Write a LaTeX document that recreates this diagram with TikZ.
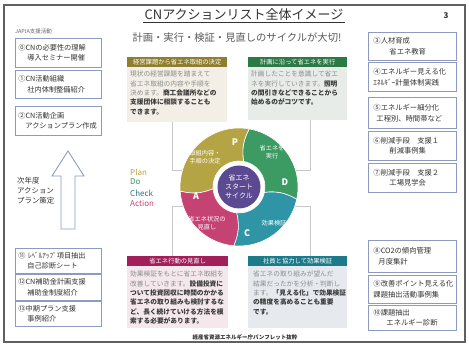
\documentclass[tikz,border=0pt]{standalone}
\usepackage{fontspec}
\setmainfont{Noto Sans CJK JP}
\usetikzlibrary{calc}
\definecolor{framec}{HTML}{606060}
\definecolor{boxblue}{HTML}{8D9BC2}
\definecolor{boxtext}{HTML}{333333}
\definecolor{segP}{HTML}{B5A443}
\definecolor{segD}{HTML}{3C9A63}
\definecolor{segC}{HTML}{2F95A6}
\definecolor{segA}{HTML}{C54372}
\definecolor{hubc}{HTML}{5B4A92}
\definecolor{hdP}{HTML}{8E7E2E}
\definecolor{hdD}{HTML}{2B7A45}
\definecolor{hdA}{HTML}{A11F5B}
\definecolor{hdC}{HTML}{1D7A8A}
\definecolor{bgP}{HTML}{F3EFE6}
\definecolor{bgD}{HTML}{E8ECE8}
\definecolor{bgA}{HTML}{F4E8EC}
\definecolor{bgC}{HTML}{E6EAEE}
\definecolor{txtgray}{HTML}{8C8C8C}
\definecolor{txtdark}{HTML}{3A3A3A}
\definecolor{linkc}{HTML}{C8C8C8}
\newcommand\pgray[1]{\textcolor{txtgray}{#1}}
\newcommand\pdark[1]{\textcolor{txtdark}{\bfseries #1}}
\newcommand\wheelseg[3]{\fill[#3, draw=white, line width=0.6pt] (#1:26) to[bend left=18] (#1:59) arc[start angle=#1, end angle=#2, radius=59] to[bend right=18] (#2:26) arc[start angle=#2, end angle=#1, radius=26] -- cycle;}
\begin{document}
\begin{tikzpicture}[x=1pt,y=-1pt,
  lbox/.style={draw=boxblue, line width=0.9pt, fill=white, anchor=north west, inner xsep=3pt, inner ysep=0pt, align=left, text width=80pt, font=\fontsize{7.2}{10.5}\selectfont, text=boxtext},
  rbox/.style={lbox, inner xsep=5pt, text width=78pt, font=\fontsize{7.3}{10.5}\selectfont},
  hdr/.style={anchor=north west, inner sep=0pt, minimum height=9.5pt, text=white, font=\fontsize{6.3}{7}\selectfont},
  body/.style={anchor=north west, inner sep=0pt},
  btext/.style={anchor=north west, inner sep=0pt, align=left, font=\fontsize{6.7}{9.3}\selectfont},
  seglabel/.style={text=white, align=center, font=\fontsize{6.2}{7.8}\selectfont},
  segletter/.style={text=white, font=\fontsize{9}{9}\selectfont\bfseries},
  link/.style={draw=linkc, line width=0.8pt},
  pdca/.style={anchor=west, inner sep=0pt, font=\fontsize{8}{8}\selectfont}
]
\useasboundingbox (0,0) rectangle (469,347);
\fill[white] (0,0) rectangle (469,347);
\draw[framec, line width=1.1pt] (4,5) rectangle (465,342);

% title
\node[inner sep=1.2pt, font=\fontsize{13}{14}\selectfont, text=boxtext] (title) at (244,15) {CNアクションリスト全体イメージ};
\draw[boxtext, line width=0.8pt] (title.south west) -- (title.south east);
\node[font=\fontsize{10.3}{11}\selectfont, text=black!65] (subtitle) at (237,38) {計画・実行・検証・見直しのサイクルが大切!};
\node[font=\fontsize{8}{8}\selectfont\bfseries, text=boxtext] (pageno) at (446,16) {3};
\node[anchor=west, inner sep=0pt, font=\fontsize{5.5}{6}\selectfont, text=black!60] (japia) at (15,31) {JAPIA支援活動};

% left boxes
\node[lbox, minimum height=29pt] (b0) at (15,38) {⓪CNの必要性の理解\\\hspace*{9pt}導入セミナー開催};
\node[lbox, minimum height=28pt] (b1) at (15,70) {①CN活動組織\\\hspace*{9pt}社内体制整備紹介};
\node[lbox, minimum height=29pt] (b2) at (15,106) {②CN活動企画\\\hspace*{7pt}アクションプラン作成};
\node[lbox, minimum height=25pt] (b11) at (15,248) {⑪ ﾚﾍﾞﾙｱｯﾌﾟ項目抽出\\\hspace*{9pt}自己診断シート};
\node[lbox, minimum height=26pt] (b12) at (15,274) {⑫CN補助金計画支援\\\hspace*{9pt}補助金制度紹介};
\node[lbox, minimum height=25pt] (b13) at (15,301) {⑬中期プラン支援\\\hspace*{9pt}事例紹介};

% up arrow
\draw[boxblue, line width=0.9pt, fill=white] (68,151) -- (84,176) -- (75,176) -- (75,229) -- (61,229) -- (61,176) -- (52,176) -- cycle;
\node[anchor=north west, inner sep=0pt, align=left, font=\fontsize{7.4}{10}\selectfont, text=boxtext] (nextyear) at (17,177) {次年度\\アクション\\プラン策定};

% right boxes
\node[rbox, minimum height=28pt] (b3) at (368,32) {③人材育成\\\hspace*{16pt}省エネ教育};
\node[rbox, minimum height=29pt] (b4) at (368,62) {④エネルギー見える化\\ｴﾈﾙｷﾞｰ計量体制実践};
\node[rbox, minimum height=31pt] (b5) at (368,97) {⑤エネルギー細分化\\\hspace*{3pt}工程別、時間帯など};
\node[rbox, minimum height=29pt] (b6) at (368,131) {⑥削減手段　支援１\\\hspace*{16pt}削減事例集};
\node[rbox, minimum height=29pt] (b7) at (368,163) {⑦削減手段　支援２\\\hspace*{16pt}工場見学会};
\node[rbox, minimum height=32pt] (b8) at (368,240) {⑧CO2の傾向管理\\\hspace*{5pt}月度集計};
\node[rbox, minimum height=28pt] (b9) at (368,275) {⑨改善ポイント見える化\\課題抽出活動事例集};
\node[rbox, minimum height=25pt] (b10) at (368,305) {⑩課題抽出\\\hspace*{13pt}エネルギー診断};

% panels
\node[body, fill=bgP, minimum width=100pt, minimum height=56pt] (pbody) at (127,66) {};
\node[hdr, fill=hdP, minimum width=100pt] (phead) at (127,57) {経営課題から省エネ取組の決定};
\node[btext] (ptext) at (130,71) {\pgray{現状の経営課題を踏まえて}\\\pgray{省エネ取組の内容や手順を}\\\pgray{決めます。}\pdark{商工会議所などの}\\\pdark{支援団体に相談することも}\\\pdark{できます。}};

\node[body, fill=bgD, minimum width=99pt, minimum height=54pt] (dbody) at (248,66) {};
\node[hdr, fill=hdD, minimum width=99pt] (dhead) at (248,57) {計画に沿って省エネを実行};
\node[btext] (dtext) at (251,71) {\pgray{計画したことを意識して省エ}\\\pgray{ネを実行していきます。}\pdark{照明}\\\pdark{の間引きなどできることから}\\\pdark{始めるのがコツです。}};

\node[body, fill=bgA, minimum width=101pt, minimum height=62pt] (abody) at (127,266) {};
\node[hdr, fill=hdA, minimum width=101pt] (ahead) at (127,256) {省エネ行動の見直し};
\node[btext] (atext) at (130,271) {\pgray{効果検証をもとに省エネ取組を}\\\pgray{改善していきます。}\pdark{設備投資に}\\\pdark{ついて投資回収に時間のかかる}\\\pdark{省エネの取り組みも検討するな}\\\pdark{ど、長く続けていける方法を模}\\\pdark{索する必要があります。}};

\node[body, fill=bgC, minimum width=99pt, minimum height=62pt] (cbody) at (248,266) {};
\node[hdr, fill=hdC, minimum width=99pt] (chead) at (248,256) {社員と協力して効果検証};
\node[btext] (ctext) at (253,271) {\pgray{省エネの取り組みが望んだ}\\\pgray{結果だったかを分析・判断し}\\\pgray{ます。}\pdark{「見える化」で効果検証}\\\pdark{の精度を高めることも重要}\\\pdark{です。}};

% PDCA words
\node[pdca, text=segP] (wplan) at (130,172) {Plan};
\node[pdca, text=segD] (wdo) at (130,182) {Do};
\node[pdca, text=segC!80!black] (wcheck) at (130,193) {Check};
\node[pdca, text=segA] (waction) at (130,203) {Action};

% connectors panels -> wheel
\coordinate (wl1) at (186,170);
\coordinate (wr1) at (292,170);
\coordinate (wl2) at (186,206);
\coordinate (wr2) at (292,206);
\draw[link] (pbody.south -| 172,0) -- (172,170) -- (wl1);
\draw[link] (dbody.south -| 310,0) -- (310,170) -- (wr1);
\draw[link] (ahead.north -| 172,0) -- (172,206) -- (wl2);
\draw[link] (chead.north -| 310,0) -- (310,206) -- (wr2);

% wheel
\begin{scope}[shift={(239,187)}, y=1pt]
  \wheelseg{-12}{80}{segD}
  \wheelseg{80}{184}{segP}
  \wheelseg{184}{265}{segA}
  \wheelseg{265}{348}{segC}
  \node[circle, fill=hubc, minimum size=43pt, inner sep=0pt, text=white, align=center, font=\fontsize{7}{9.2}\selectfont] (hub) at (0,0) {省エネ\\スタート\\サイクル};
\end{scope}
\node[seglabel] (lp) at (205,157) {取組内容・\\手順の決定};
\node[seglabel] (ld) at (272,152) {省エネを\\実行};
\node[seglabel] (lc) at (274,223) {効果検証};
\node[seglabel] (la) at (207,223) {省エネ状況の\\見直し};
\node[segletter] (tp) at (235,142) {P};
\node[segletter] (td) at (285,182) {D};
\node[segletter] (tc) at (247,233) {C};
\node[segletter] (ta) at (196,196) {A};

% footer
\node[font=\fontsize{5.5}{6}\selectfont\bfseries, text=boxtext] (footer) at (245,337) {経産省資源エネルギー庁パンフレット抜粋};
\end{tikzpicture}
\end{document}
